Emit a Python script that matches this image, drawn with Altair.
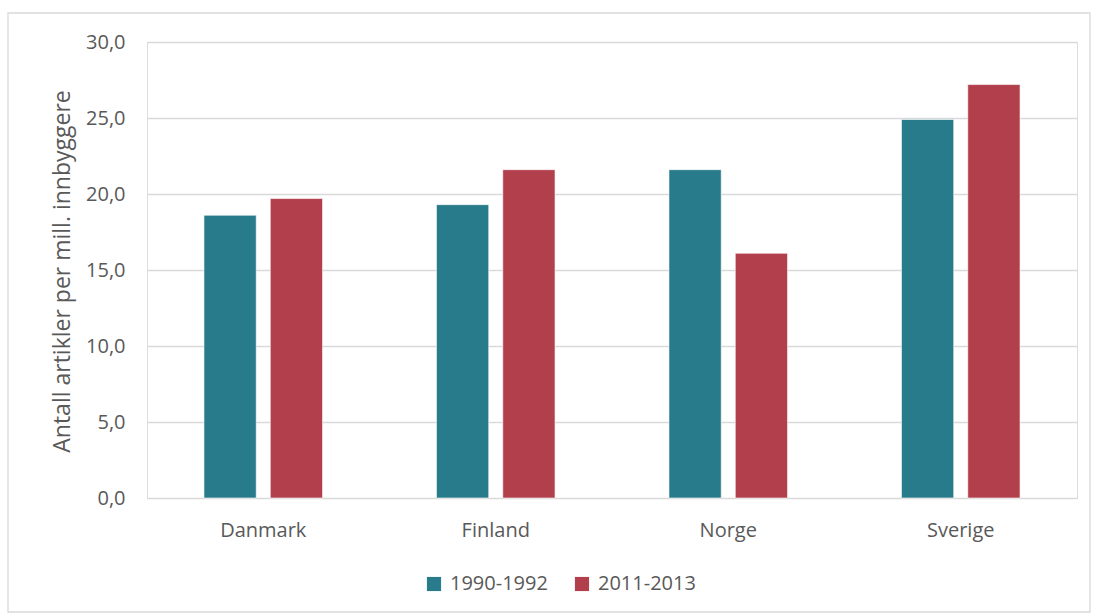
import altair as alt
import pandas as pd

# Articles per million inhabitants, two periods
countries = ["Danmark", "Finland", "Norge", "Sverige"]
periods = ["1990-1992", "2011-2013"]
values_1990 = [18.6, 19.3, 21.6, 24.9]
values_2011 = [19.7, 21.6, 16.1, 27.2]
y_ticks = [0, 5, 10, 15, 20, 25, 30]

rows = []
for c, a, b in zip(countries, values_1990, values_2011):
    rows.append({"land": c, "periode": periods[0], "verdi": a})
    rows.append({"land": c, "periode": periods[1], "verdi": b})
df = pd.DataFrame(rows)

FONT = "Open Sans"
TXT = "#595959"
GRID = "#d9d9d9"
W, H = 930, 456

bars = alt.Chart(df).mark_bar(stroke="white", strokeWidth=0.6).encode(
    x=alt.X(
        "land:N",
        sort=countries,
        scale=alt.Scale(paddingInner=0.49, paddingOuter=0.245),
        axis=alt.Axis(
            title=None, labelAngle=0, ticks=False, domainColor=GRID,
            domainWidth=1, labelPadding=22, labelFontSize=20,
            labelColor=TXT, labelFont=FONT, grid=False,
        ),
    ),
    xOffset=alt.XOffset(
        "periode:N", sort=periods,
        scale=alt.Scale(paddingInner=0.212, paddingOuter=0),
    ),
    y=alt.Y(
        "verdi:Q",
        scale=alt.Scale(domain=[0, 30], nice=False),
        axis=alt.Axis(
            title="Antall artikler per mill. innbyggere",
            values=y_ticks, ticks=False, domain=False,
            gridColor=GRID, gridWidth=1.3,
            labelExpr="replace(format(datum.value, '.1f'), '.', ',')",
            labelPadding=22, labelFontSize=20, labelColor=TXT,
            labelFont=FONT, titleFont=FONT, titleFontSize=23,
            titleFontWeight="normal", titleColor=TXT,
            titleX=-85, titleY=229, titleAngle=-90,
            titleAlign="center", titleBaseline="middle",
        ),
    ),
    color=alt.Color(
        "periode:N",
        sort=periods,
        scale=alt.Scale(domain=periods, range=["#277B8A", "#B13F4C"]),
        legend=alt.Legend(
            title=None, orient="none", direction="horizontal",
            legendX=277, legendY=532, symbolType="square",
            symbolSize=200, symbolStrokeWidth=0, labelFontSize=20,
            labelColor=TXT, labelFont=FONT, columnPadding=24,
            labelOffset=6,
        ),
    ),
)

# light frame around the whole chart area
frame = alt.Chart(pd.DataFrame({"k": [0]})).mark_rect(
    fill=None, stroke=GRID, strokeWidth=1.3
).encode(
    x=alt.value(-139), x2=alt.value(943),
    y=alt.value(-29), y2=alt.value(570),
)

chart = alt.layer(frame, bars).properties(
    width=W, height=H,
    autosize=alt.AutoSizeParams(type="none"),
    padding={"left": 147, "top": 42, "right": 16, "bottom": 117},
).configure_view(stroke=None).configure(background="white")

chart.save("out.html", embed_options={"renderer": "svg", "actions": False})
